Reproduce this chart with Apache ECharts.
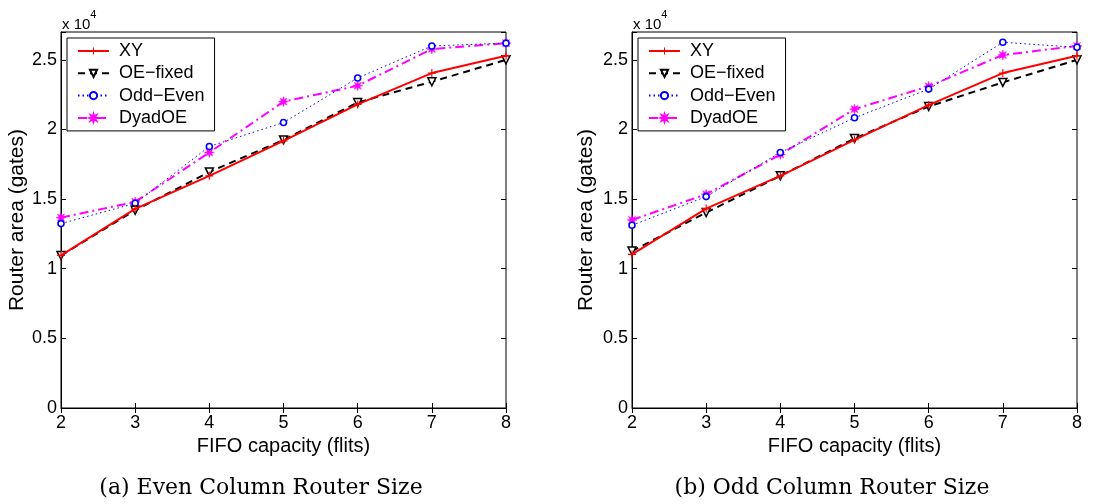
<!DOCTYPE html>
<html>
<head>
<meta charset="utf-8">
<script src="https://cdn.jsdelivr.net/npm/echarts@6/dist/echarts.min.js"></script>
<style>
  html, body { margin: 0; padding: 0; background: #fff; }
  #chart { width: 1119px; height: 504px; }
</style>
</head>
<body>
<div id="chart"></div>
<script>
// FIFO capacity (flits)
const capacity = [2, 3, 4, 5, 6, 7, 8];
const seriesNames = ['XY', 'OE\u2212fixed', 'Odd\u2212Even', 'DyadOE'];

// (a) even column routers, area in gates
const evenXY = [10960, 14300, 16670, 19180, 21800, 24050, 25300];
const evenOEfixed = [10950, 14200, 16950, 19250, 21940, 23430, 25000];
const evenOddEven = [13240, 14700, 18780, 20500, 23700, 26000, 26200];
const evenDyadOE = [13670, 14800, 18350, 22000, 23140, 25780, 26200];

// (b) odd column routers
const oddXY = [11030, 14320, 16670, 19260, 21750, 24050, 25300];
const oddOEfixed = [11270, 14030, 16670, 19350, 21650, 23380, 25000];
const oddOddEven = [13120, 15180, 18350, 20840, 22900, 26260, 25900];
const oddDyadOE = [13500, 15350, 18200, 21460, 23100, 25350, 26000];

const captions = ['(a) Even Column Router Size', '(b) Odd Column Router Size'];

document.addEventListener('DOMContentLoaded', () => {
const chart = echarts.init(document.getElementById('chart'));

const sansFont = '"Liberation Sans", Arial, sans-serif';
const plusPath = 'path://M-0.7,-5H0.7V-0.7H5V0.7H0.7V5H-0.7V0.7H-5V-0.7H-0.7Z';
// 8-arm asterisk shape
let starPts = [];
for (let i = 0; i < 16; i++) {
    const r = i % 2 === 0 ? 5 : 2.2;
    const a = Math.PI * i / 8;
    starPts.push((r * Math.sin(a)).toFixed(2) + ',' + (-r * Math.cos(a)).toFixed(2));
}
const starPath = 'path://M' + starPts.join('L') + 'Z';

const styles = [
    { color: '#ff0000', line: { width: 2, type: 'solid' }, symbol: plusPath, size: 8, fill: '#ff0000', border: '#ff0000', bw: 0 },
    { color: '#000000', line: { width: 2, type: [7, 5] }, symbol: 'triangle', size: 8, rotate: 180, fill: '#ffffff', border: '#000000', bw: 1.5 },
    { color: '#0000ff', line: { width: 1, type: [1.5, 3] }, symbol: 'circle', size: 6, fill: '#ffffff', border: '#0000ff', bw: 1.6 },
    { color: '#ff00ff', line: { width: 2, type: [9, 4, 2, 4] }, symbol: starPath, size: 10, fill: '#ff00ff', border: '#ff00ff', bw: 0.5 }
];

const plots = [
    { data: [evenXY, evenOEfixed, evenOddEven, evenDyadOE], left: 61, right: 613, caption: 261, nameGap: 32 },
    { data: [oddXY, oddOEfixed, oddOddEven, oddDyadOE], left: 632, right: 42, caption: 832, nameGap: 35 }
];

const grids = [], xAxes = [], yAxes = [], series = [], legends = [], graphics = [];
const tickInside = { show: true, inside: true, length: 5, lineStyle: { color: '#000', width: 1 } };

plots.forEach((p, gi) => {
    grids.push({ left: p.left, right: p.right, top: 32, bottom: 96, show: true, borderColor: '#000', borderWidth: 1 });
    xAxes.push({
        type: 'value', gridIndex: gi, position: 'bottom', min: 2, max: 8, interval: 1,
        name: 'FIFO capacity (flits)', nameLocation: 'middle', nameGap: 26,
        nameTextStyle: { fontFamily: sansFont, fontSize: 20, color: '#000' },
        axisLine: { lineStyle: { color: '#000', width: 1 } },
        axisTick: tickInside, splitLine: { show: false },
        axisLabel: { fontFamily: sansFont, fontSize: 18, color: '#000', margin: 6 }
    });
    yAxes.push({
        type: 'value', gridIndex: gi, position: 'left', min: 0, max: 27000, interval: 5000,
        name: 'Router area (gates)', nameLocation: 'middle', nameGap: p.nameGap,
        nameTextStyle: { fontFamily: sansFont, fontSize: 21, color: '#000' },
        axisLine: { lineStyle: { color: '#000', width: 1 } },
        axisTick: tickInside, splitLine: { show: false },
        axisLabel: {
            fontFamily: sansFont, fontSize: 18, color: '#000', margin: 4,
            formatter: v => (v % 5000 === 0 ? String(v / 1e4) : '')
        }
    });
    p.data.forEach((vals, si) => {
        const s = styles[si];
        series.push({
            name: seriesNames[si], type: 'line', xAxisIndex: gi, yAxisIndex: gi,
            data: capacity.map((c, i) => [c, vals[i]]),
            symbol: s.symbol, symbolSize: s.size, symbolRotate: s.rotate || 0,
            showAllSymbol: true,
            lineStyle: Object.assign({ color: s.color }, s.line),
            itemStyle: { color: s.fill, borderColor: s.border, borderWidth: s.bw },
            z: 10 - si, animation: false
        });
    });
    legends.push({
        data: seriesNames, orient: 'vertical',
        left: p.left + 6, top: 38,
        backgroundColor: '#fff', borderColor: '#000', borderWidth: 1,
        padding: [4, 10, 4, 10], itemGap: 4.3, itemWidth: 31, itemHeight: 9,
        textStyle: { fontFamily: sansFont, fontSize: 18, color: '#000', padding: [0, 0, 0, 5] },
        selectedMode: false, z: 20
    });
    graphics.push({
        type: 'text', left: p.left + 1, top: 9,
        style: {
            text: '{a|x 10}{b|4}',
            rich: {
                a: { fontFamily: sansFont, fontSize: 15, fill: '#000', padding: [8, 0, 0, 0] },
                b: { fontFamily: sansFont, fontSize: 11, fill: '#000', verticalAlign: 'top' }
            }
        }
    });
    graphics.push({
        type: 'text', x: p.caption, y: 488,
        style: {
            text: captions[gi], fontFamily: '"DejaVu Serif", serif', fontSize: 22,
            fill: '#000', textAlign: 'center', textVerticalAlign: 'middle'
        }
    });
});

// ticks on the top and right edges
plots.forEach((p, gi) => {
    xAxes.push({
        type: 'value', gridIndex: gi, position: 'top', min: 2, max: 8, interval: 1,
        axisLine: { show: false }, axisTick: tickInside, axisLabel: { show: false }, splitLine: { show: false }
    });
    yAxes.push({
        type: 'value', gridIndex: gi, position: 'right', min: 0, max: 27000, interval: 5000,
        axisLine: { show: false }, axisTick: tickInside, axisLabel: { show: false }, splitLine: { show: false }
    });
});

chart.setOption({
    backgroundColor: '#fff',
    animation: false,
    grid: grids, xAxis: xAxes, yAxis: yAxes,
    legend: legends, series: series, graphic: graphics
});
});
</script>
</body>
</html>
